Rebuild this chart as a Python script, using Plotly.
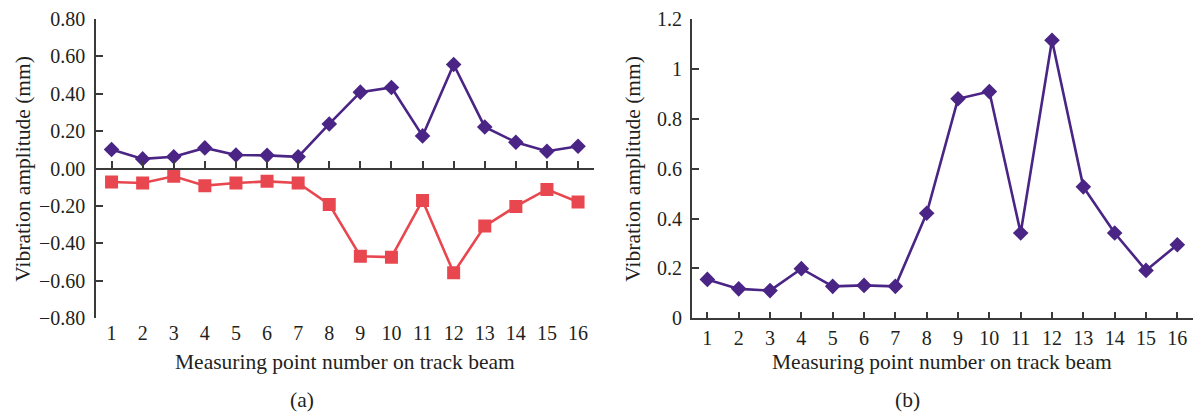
import plotly.graph_objects as go

points = list(range(1, 17))
tick_labels = [str(p) for p in points]

# Panel (a): positive and negative vibration amplitudes (mm)
upper_a = [0.102, 0.052, 0.064, 0.111, 0.073, 0.071, 0.063, 0.239, 0.409, 0.434,
           0.175, 0.557, 0.223, 0.141, 0.093, 0.120]
lower_a = [-0.071, -0.077, -0.041, -0.091, -0.077, -0.068, -0.077, -0.191, -0.468, -0.473,
           -0.170, -0.557, -0.307, -0.202, -0.111, -0.178]
# Panel (b): vibration amplitude (mm)
amp_b = [0.156, 0.118, 0.111, 0.199, 0.128, 0.132, 0.128, 0.421, 0.880, 0.909,
         0.342, 1.115, 0.527, 0.342, 0.192, 0.295]

purple = "#4a2585"
red = "#e8474f"
axis_col = "#3a3a3a"
text_col = "#231f20"
FONT = "Liberation Serif"

W, H = 1194, 412
ytop, ybot = 19, 318.3
dom_y = [(H - ybot) / H, (H - ytop) / H]
dom_xa = [96 / W, 593.6 / W]
dom_xb = [691.7 / W, 1193 / W]
xr = [0.5, 16.5]

fig = go.Figure()
fig.add_trace(go.Scatter(x=points, y=upper_a, xaxis="x", yaxis="y", mode="lines+markers",
                         line=dict(color=purple, width=2.6),
                         marker=dict(symbol="diamond", size=12, color=purple),
                         showlegend=False))
fig.add_trace(go.Scatter(x=points, y=lower_a, xaxis="x", yaxis="y", mode="lines+markers",
                         line=dict(color=red, width=2.6),
                         marker=dict(symbol="square", size=13, color=red),
                         showlegend=False))
# helper (invisible) trace so the zero-crossing axis of panel (a) gets drawn
fig.add_trace(go.Scatter(x=points, y=upper_a, xaxis="x3", yaxis="y", mode="markers",
                         marker=dict(opacity=0), hoverinfo="skip", showlegend=False))
fig.add_trace(go.Scatter(x=points, y=amp_b, xaxis="x2", yaxis="y2", mode="lines+markers",
                         line=dict(color=purple, width=2.6),
                         marker=dict(symbol="diamond", size=12, color=purple),
                         showlegend=False))

tickfont = dict(family=FONT, size=20, color=text_col)
common_line = dict(showline=True, linecolor=axis_col, linewidth=1.6, ticks="inside",
                   ticklen=7, tickcolor=axis_col, tickwidth=1.6, showgrid=False,
                   zeroline=False, automargin=False)

fig.update_layout(
    width=W, height=H, margin=dict(l=0, r=0, t=0, b=0, autoexpand=False),
    paper_bgcolor="white", plot_bgcolor="white",
    font=dict(family=FONT, size=20, color=text_col),
    xaxis=dict(domain=dom_xa, anchor="y", range=xr, tickmode="array", tickvals=points,
               ticktext=tick_labels, showline=False, ticks="", showgrid=False,
               zeroline=False, tickfont=tickfont, ticklabelstandoff=1, automargin=False),
    xaxis3=dict(domain=dom_xa, overlaying="x", anchor="free",
                position=(dom_y[0] + dom_y[1]) / 2, range=xr, tickmode="array",
                tickvals=points, showticklabels=False, **common_line),
    yaxis=dict(domain=dom_y, anchor="x", range=[-0.8, 0.8], dtick=0.2, tickformat=".2f",
               tickfont=tickfont, ticklabelstandoff=5, **common_line),
    xaxis2=dict(domain=dom_xb, anchor="y2", range=xr, tickmode="array", tickvals=points,
                ticktext=tick_labels, tickfont=tickfont, ticklabelstandoff=1, **common_line),
    yaxis2=dict(domain=dom_y, anchor="x2", range=[0, 1.2], dtick=0.2, tickformat="~g",
                tickfont=tickfont, ticklabelstandoff=4, **common_line),
)

title_font = dict(family=FONT, size=21.5, color=text_col)


def note(text, x, y, angle=0):
    return dict(text=text, x=x / W, y=(H - y) / H, xref="paper", yref="paper",
                xanchor="center", yanchor="middle", textangle=angle,
                showarrow=False, font=title_font)


ann = [
    note("Measuring point number on track beam", (96 + 593.6) / 2, 361.5),
    note("Measuring point number on track beam", (691.7 + 1193) / 2, 361.5),
    note("Vibration amplitude (mm)", 23, (ytop + ybot) / 2, -90),
    note("Vibration amplitude (mm)", 633, (ytop + ybot) / 2, -90),
    note("(a)", 302, 400),
    note("(b)", 907, 400),
]
fig.update_layout(annotations=ann)

# remove the browser's default page margin so the figure sits at the window origin
fig.write_html("out.html", config={"displayModeBar": False},
               post_script="document.body.style.margin='0px';"
                           "document.body.style.overflow='hidden';")
